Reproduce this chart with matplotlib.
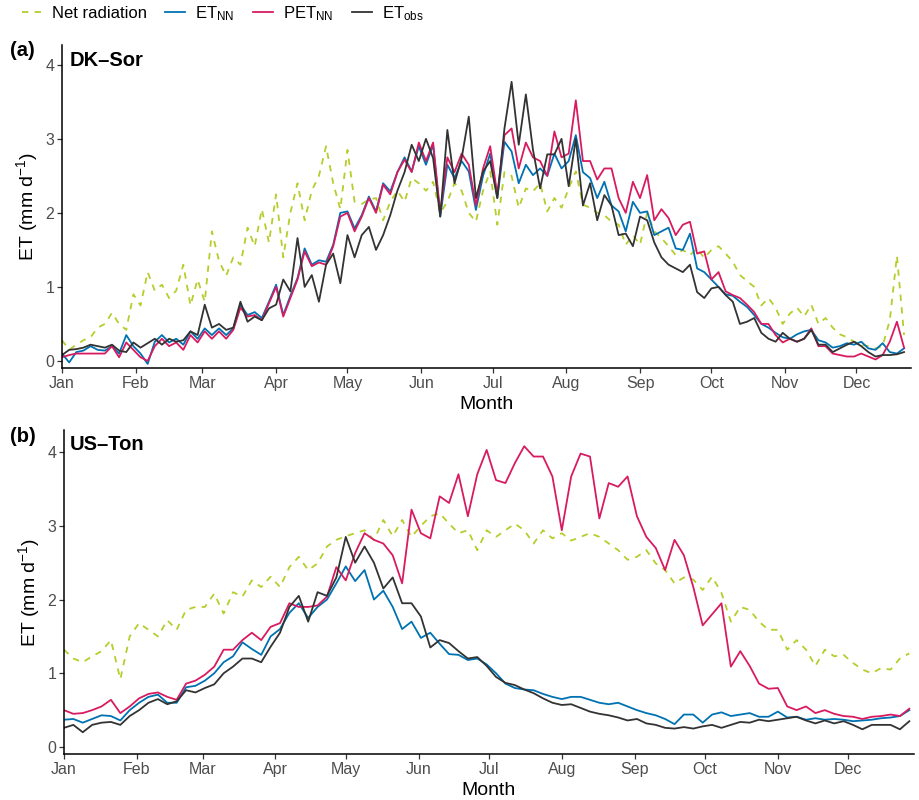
import numpy as np
import matplotlib
matplotlib.use("Agg")
import matplotlib.pyplot as plt
from matplotlib.lines import Line2D

plt.rcParams['font.family'] = ['Liberation Sans', 'DejaVu Sans']
plt.rcParams['mathtext.fontset'] = 'custom'
plt.rcParams['mathtext.rm'] = 'Liberation Sans'
plt.rcParams['mathtext.it'] = 'Liberation Sans:italic'
plt.rcParams['mathtext.bf'] = 'Liberation Sans:bold'

# Month ticks (day of year of month start)
month_days = [0, 31, 59, 90, 120, 151, 181, 212, 243, 273, 304, 334]
month_labels = ["Jan", "Feb", "Mar", "Apr", "May", "Jun",
                "Jul", "Aug", "Sep", "Oct", "Nov", "Dec"]

# ---- Panel (a) DK-Sor, sampled every 3 days ----
days_a = np.arange(0, 355, 3)

rn_a = [0.28, 0.15, 0.22, 0.28, 0.32, 0.45, 0.5, 0.65, 0.5, 0.42, 0.9,
        0.75, 1.2, 0.95, 1.03, 0.85, 0.95, 1.3, 0.75, 1.1,
        0.8, 1.75, 1.35, 1.15, 1.4, 1.3, 1.8, 1.55, 2.05, 1.6,
        2.25, 1.4, 2.0, 2.4, 1.9, 2.3, 2.5, 2.9, 2.4, 2.05,
        2.85, 2.15, 2.12, 2.18, 2.2, 1.9, 2.15, 2.3, 2.15, 2.47, 2.4,
        2.3, 2.42, 2.0, 2.15, 2.4, 2.3, 2.0, 1.88, 2.3, 2.56,
        1.84, 2.55, 2.5, 2.07, 2.33, 2.29, 2.4, 2.02, 2.2, 2.07,
        2.33, 2.56, 2.11, 2.07, 2.0, 1.97, 1.88, 1.84, 1.57, 1.7,
        1.57, 2.0, 1.75, 1.66, 1.55, 1.43, 1.5, 1.43, 1.52, 1.39,
        1.5, 1.55, 1.45, 1.34, 1.16, 1.08, 1.0, 0.75, 0.85, 0.72, 0.5,
        0.64, 0.72, 0.6, 0.76, 0.5, 0.58, 0.45, 0.36, 0.32, 0.26,
        0.22, 0.2, 0.17, 0.2, 0.55, 1.42, 0.35]

etnn_a = [0.1, -0.02, 0.12, 0.14, 0.2, 0.15, 0.14, 0.2, 0.1, 0.35, 0.2,
          0.1, -0.04, 0.26, 0.35, 0.25, 0.3, 0.22, 0.4, 0.3,
          0.44, 0.35, 0.44, 0.35, 0.44, 0.76, 0.62, 0.66, 0.58, 0.8,
          1.03, 0.62, 0.88, 1.12, 1.52, 1.3, 1.36, 1.34, 1.57, 2.0,
          2.02, 1.79, 1.97, 2.22, 2.02, 2.4, 2.29, 2.55, 2.75, 2.56, 2.9,
          2.65, 2.92, 1.95, 2.65, 2.47, 2.7, 2.56, 2.04, 2.5, 2.8,
          2.2, 2.96, 2.83, 2.4, 2.65, 2.51, 2.6, 2.5, 2.8, 2.6,
          2.7, 3.05, 2.55, 2.47, 2.2, 2.42, 2.1, 2.02, 1.75, 2.15,
          2.0, 2.02, 1.7, 1.75, 1.8, 1.52, 1.5, 1.72, 1.25, 1.2,
          1.1, 1.0, 0.9, 0.88, 0.8, 0.73, 0.62, 0.5, 0.45, 0.38, 0.32,
          0.3, 0.36, 0.4, 0.42, 0.28, 0.25, 0.18, 0.2, 0.24, 0.22,
          0.26, 0.17, 0.15, 0.24, 0.12, 0.1, 0.17]

petnn_a = [0.05, 0.08, 0.1, 0.1, 0.1, 0.1, 0.1, 0.2, 0.05, 0.25, 0.15,
           0.05, 0.0, 0.2, 0.3, 0.2, 0.25, 0.15, 0.35, 0.25,
           0.4, 0.3, 0.4, 0.3, 0.42, 0.72, 0.6, 0.62, 0.55, 0.78,
           1.0, 0.6, 0.85, 1.1, 1.48, 1.28, 1.33, 1.3, 1.55, 1.95,
           2.0, 1.75, 1.95, 2.2, 2.0, 2.38, 2.25, 2.55, 2.72, 2.55, 2.95,
           2.7, 2.95, 2.0, 2.75, 2.55, 2.8, 2.65, 2.1, 2.6, 2.9,
           2.25, 3.05, 3.14, 2.6, 2.95, 2.75, 2.7, 2.5, 3.1, 2.75,
           2.8, 3.52, 2.7, 2.7, 2.45, 2.6, 2.6, 2.2, 2.0, 2.42,
           2.2, 2.51, 1.9, 2.05, 1.93, 1.7, 1.84, 1.88, 1.45, 1.48,
           1.1, 1.2, 0.94, 0.89, 0.85, 0.76, 0.66, 0.5, 0.5, 0.35, 0.25,
           0.3, 0.26, 0.3, 0.44, 0.2, 0.2, 0.1, 0.08, 0.06, 0.06,
           0.1, 0.06, 0.02, 0.08, 0.26, 0.53, 0.18]

etobs_a = [0.08, 0.15, 0.16, 0.18, 0.22, 0.2, 0.18, 0.22, 0.14, 0.12, 0.25,
           0.18, 0.24, 0.3, 0.22, 0.3, 0.26, 0.28, 0.4, 0.35,
           0.76, 0.45, 0.5, 0.42, 0.45, 0.8, 0.53, 0.6, 0.55, 0.71,
           0.76, 1.1, 0.94, 1.66, 1.0, 1.16, 0.8, 1.3, 1.45, 1.05,
           1.7, 1.4, 1.7, 1.81, 1.5, 1.7, 1.97, 2.3, 2.55, 2.92, 2.7,
           3.0, 2.74, 1.95, 3.12, 2.4, 2.74, 3.3, 2.2, 2.56, 2.7,
           2.2, 3.14, 3.77, 2.92, 3.6, 2.85, 2.33, 2.79, 2.79, 3.0,
           2.36, 3.0, 2.1, 2.4, 1.9, 2.24, 2.1, 1.7, 1.72, 1.55,
           1.95, 1.9, 1.6, 1.4, 1.3, 1.25, 1.2, 1.3, 0.93, 0.85,
           0.98, 1.0, 0.89, 0.8, 0.5, 0.53, 0.58, 0.38, 0.3, 0.26, 0.38,
           0.3, 0.26, 0.3, 0.42, 0.22, 0.22, 0.12, 0.17, 0.22, 0.26,
           0.2, 0.12, 0.06, 0.08, 0.08, 0.09, 0.12]

# ---- Panel (b) US-Ton, sampled every 4 days ----
days_b = np.arange(0, 361, 4)

rn_b = [1.32, 1.2, 1.15, 1.23, 1.3, 1.45, 0.92, 1.5, 1.68, 1.59,
        1.5, 1.72, 1.59, 1.86, 1.9, 1.9, 2.08, 1.81, 2.1, 2.04,
        2.26, 2.17, 2.31, 2.17, 2.44, 2.58, 2.4, 2.49, 2.72, 2.81,
        2.86, 2.9, 2.94, 2.81, 3.08, 2.86, 3.08, 2.85, 3.0, 3.13,
        3.17, 3.03, 2.9, 2.94, 2.67, 2.94, 2.85, 2.94, 3.03, 2.94,
        2.76, 2.94, 2.83, 2.9, 2.8, 2.85, 2.9, 2.85, 2.76, 2.67,
        2.54, 2.58, 2.67, 2.49, 2.4, 2.22, 2.3, 2.27, 2.13, 2.31,
        2.09, 1.7, 1.9, 1.86, 1.7, 1.59, 1.59, 1.32, 1.45, 1.32,
        1.1, 1.32, 1.23, 1.25, 1.14, 1.05, 1.0, 1.07, 1.05, 1.2, 1.27]

etnn_b = [0.37, 0.38, 0.33, 0.38, 0.43, 0.42, 0.36, 0.5, 0.6, 0.68,
          0.71, 0.6, 0.6, 0.81, 0.83, 0.9, 1.0, 1.15, 1.23, 1.42,
          1.33, 1.25, 1.5, 1.6, 1.82, 1.95, 1.75, 1.9, 2.0, 2.22,
          2.45, 2.25, 2.4, 2.0, 2.12, 1.9, 1.6, 1.7, 1.48, 1.55,
          1.4, 1.26, 1.25, 1.18, 1.2, 1.12, 1.0, 0.86, 0.8, 0.78,
          0.77, 0.72, 0.68, 0.65, 0.68, 0.68, 0.64, 0.6, 0.58, 0.6,
          0.55, 0.5, 0.46, 0.43, 0.38, 0.31, 0.44, 0.44, 0.33, 0.44,
          0.47, 0.42, 0.44, 0.46, 0.41, 0.41, 0.48, 0.4, 0.41, 0.37,
          0.39, 0.37, 0.38, 0.37, 0.35, 0.36, 0.37, 0.39, 0.4, 0.42, 0.5]

petnn_b = [0.5, 0.45, 0.46, 0.5, 0.55, 0.64, 0.46, 0.55, 0.66, 0.72,
           0.74, 0.68, 0.64, 0.86, 0.9, 0.98, 1.09, 1.32, 1.32, 1.45,
           1.55, 1.45, 1.63, 1.68, 1.95, 1.9, 1.9, 1.92, 2.04, 2.44,
           2.26, 2.63, 2.9, 2.81, 2.76, 2.6, 2.22, 3.22, 2.9, 2.83,
           3.4, 3.31, 3.7, 3.13, 3.7, 4.03, 3.62, 3.58, 3.85, 4.08,
           3.94, 3.94, 3.67, 2.94, 3.67, 3.98, 3.94, 3.1, 3.58, 3.53,
           3.67, 3.13, 2.85, 2.7, 2.4, 2.81, 2.6, 2.17, 1.65, 1.8,
           1.95, 1.09, 1.3, 1.1, 0.86, 0.79, 0.8, 0.55, 0.5, 0.55,
           0.46, 0.5, 0.45, 0.42, 0.41, 0.38, 0.41, 0.42, 0.44, 0.42, 0.52]

etobs_b = [0.26, 0.3, 0.2, 0.3, 0.33, 0.34, 0.3, 0.42, 0.5, 0.6,
           0.65, 0.58, 0.62, 0.77, 0.74, 0.8, 0.85, 1.0, 1.09, 1.2,
           1.2, 1.15, 1.36, 1.55, 1.9, 2.05, 1.7, 2.1, 2.05, 2.3,
           2.85, 2.5, 2.72, 2.5, 2.15, 2.3, 1.95, 1.95, 1.77, 1.35,
           1.45, 1.41, 1.3, 1.2, 1.22, 1.1, 0.95, 0.87, 0.84, 0.78,
           0.73, 0.66, 0.6, 0.57, 0.58, 0.53, 0.48, 0.45, 0.43, 0.4,
           0.36, 0.38, 0.32, 0.3, 0.26, 0.25, 0.27, 0.25, 0.28, 0.3,
           0.26, 0.3, 0.34, 0.33, 0.37, 0.35, 0.37, 0.39, 0.41, 0.36,
           0.32, 0.36, 0.32, 0.35, 0.3, 0.24, 0.3, 0.3, 0.3, 0.24, 0.35]

col_rn = "#b8cc2b"
col_etnn = "#0072b2"
col_pet = "#d81b60"
col_obs = "#333333"
lw = 1.3


def draw_panel(ax, days, rn, etnn, pet, obs, xmax, ymax):
    ax.plot(days, rn, color=col_rn, lw=lw, linestyle=(0, (3.5, 3.5)))
    ax.plot(days, etnn, color=col_etnn, lw=lw)
    ax.plot(days, pet, color=col_pet, lw=lw)
    ax.plot(days, obs, color=col_obs, lw=lw)
    ax.set_xlim(0, xmax)
    ax.set_ylim(-0.095, ymax)
    ax.set_xticks(month_days)
    ax.set_xticklabels(month_labels)
    ax.set_yticks([0, 1, 2, 3, 4])
    for s in ["top", "right"]:
        ax.spines[s].set_visible(False)
    for s in ["left", "bottom"]:
        ax.spines[s].set_linewidth(1.1)
    ax.tick_params(direction="out", length=3.5, width=0.9, color="#333333",
                   labelcolor="#4d4d4d", labelsize=11.5, pad=2)
    ax.set_xlabel("Month", fontsize=14, labelpad=4)
    ax.set_ylabel(r"ET (mm d$^{-1}$)", fontsize=14, labelpad=4)


fig = plt.figure(figsize=(9.19, 8.0), dpi=100)
ax1 = fig.add_axes([0.0675, 0.54, 0.924, 0.404])
ax2 = fig.add_axes([0.0696, 0.0575, 0.925, 0.405])

draw_panel(ax1, days_a, rn_a, etnn_a, petnn_a, etobs_a, 357, 4.27)
draw_panel(ax2, days_b, rn_b, etnn_b, petnn_b, etobs_b, 362, 4.30)

fig.text(10 / 919, 1 - 50 / 800, "(a)", fontsize=14.5, fontweight="bold", va="center")
fig.text(70 / 919, 1 - 60 / 800, "DK\u2013Sor", fontsize=14.5, fontweight="bold", va="center")
fig.text(10 / 919, 1 - 437 / 800, "(b)", fontsize=14.5, fontweight="bold", va="center")
fig.text(70 / 919, 1 - 445 / 800, "US\u2013Ton", fontsize=14.5, fontweight="bold", va="center")

handles = [
    Line2D([], [], color=col_rn, lw=lw, linestyle=(0, (3.5, 3.5))),
    Line2D([], [], color=col_etnn, lw=lw),
    Line2D([], [], color=col_pet, lw=lw),
    Line2D([], [], color=col_obs, lw=lw),
]
labels = ["Net radiation", r"ET$_{\mathrm{NN}}$", r"PET$_{\mathrm{NN}}$", r"ET$_{\mathrm{obs}}$"]
fig.legend(handles, labels, loc="upper left", bbox_to_anchor=(22 / 919, 1 - 4 / 800),
           ncol=4, frameon=False, fontsize=12, handlelength=1.2, handletextpad=0.6,
           columnspacing=1.1, borderpad=0, borderaxespad=0)

fig.savefig("out.png", dpi=100)
